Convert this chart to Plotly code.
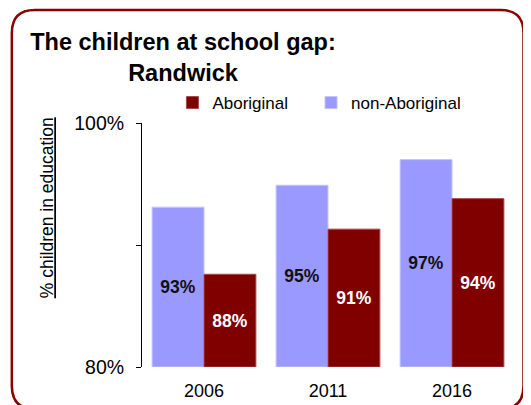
import plotly.graph_objects as go

YEARS = ["2006", "2011", "2016"]
NON_ABORIGINAL = [0.931, 0.949, 0.970]
ABORIGINAL = [0.876, 0.913, 0.938]
Y_TICKS = [0.8, 0.9, 1.0]
Y_TICK_TEXT = ["80%", "", "100%"]
BASE = 0.8

LAVENDER = "#9999FF"
MAROON = "#800000"
BORDER = "#8B0000"
FONT = "Liberation Sans, Arial, sans-serif"

# the page body has an 8px margin, so work in page pixels and shift back
OFF = 8
W, H = 531 - OFF, 405 - OFF
PLOT_L, PLOT_R, PLOT_T, PLOT_B = 141.5, 514.5, 123, 367
M_L, M_T = PLOT_L - OFF, PLOT_T - OFF
M_R, M_B = W - (PLOT_R - OFF), H - (PLOT_B - OFF)
PW, PH = PLOT_R - PLOT_L, PLOT_B - PLOT_T


def px_to_paper(x, y):
    return (x - PLOT_L) / PW, (PLOT_B - y) / PH


def rounded_box(x0, y0, x1, y1, r):
    pts = [
        ("M", [(x0 + r, y0)]), ("L", [(x1 - r, y0)]), ("Q", [(x1, y0), (x1, y0 + r)]),
        ("L", [(x1, y1 - r)]), ("Q", [(x1, y1), (x1 - r, y1)]), ("L", [(x0 + r, y1)]),
        ("Q", [(x0, y1), (x0, y1 - r)]), ("L", [(x0, y0 + r)]), ("Q", [(x0, y0), (x0 + r, y0)]),
    ]
    out = []
    for cmd, coords in pts:
        s = " ".join("%.4f,%.4f" % px_to_paper(*c) for c in coords)
        out.append(cmd + s)
    return " ".join(out) + " Z"


def pct(vals):
    return ["%d%%" % round(v * 100) for v in vals]


fig = go.Figure()
fig.add_trace(go.Bar(
    name="non-Aboriginal", x=YEARS, y=[v - BASE for v in NON_ABORIGINAL], base=BASE,
    marker=dict(color=LAVENDER, line=dict(color="#c4c4ff", width=1)),
    text=pct(NON_ABORIGINAL), textposition="inside", insidetextanchor="middle",
    textfont=dict(family=FONT, size=17.5, color="#111111", weight="bold"),
    hoverinfo="skip", legend="legend2",
))
fig.add_trace(go.Bar(
    name="Aboriginal", x=YEARS, y=[v - BASE for v in ABORIGINAL], base=BASE,
    marker=dict(color=MAROON, line=dict(color="#a84848", width=1)),
    text=pct(ABORIGINAL), textposition="inside", insidetextanchor="middle",
    textfont=dict(family=FONT, size=17.5, color="white", weight="bold"),
    hoverinfo="skip", legend="legend",
))

legend_common = dict(
    orientation="h", xanchor="left", yanchor="middle",
    y=px_to_paper(0, 103)[1],
    font=dict(family=FONT, size=17, color="black"),
    bgcolor="rgba(0,0,0,0)",
)

fig.update_layout(
    width=W, height=H,
    margin=dict(l=M_L, r=M_R, t=M_T, b=M_B, pad=0, autoexpand=False),
    paper_bgcolor="white", plot_bgcolor="white",
    font=dict(family=FONT, color="#111111"),
    barmode="group", bargap=0.163, bargroupgap=0,
    title=dict(
        text="<b>The children at school gap:<br>Randwick</b>",
        font=dict(family=FONT, size=23.5, color="black"),
        xref="container", x=(183 - OFF) / W, xanchor="center",
        yref="container", y=1 - 42 / H, yanchor="top",
    ),
    showlegend=True,
    legend=dict(x=px_to_paper(172, 0)[0], **legend_common),
    legend2=dict(x=px_to_paper(311, 0)[0], **legend_common),
    xaxis=dict(
        type="category", showline=False, showgrid=False, zeroline=False,
        ticks="", tickfont=dict(family=FONT, size=18, color="black"),
        ticklabelstandoff=11, automargin=False,
    ),
    yaxis=dict(
        range=[0.8, 1.0], tickvals=Y_TICKS, ticktext=Y_TICK_TEXT,
        showline=True, linecolor="black", linewidth=1, mirror=False,
        ticks="outside", ticklen=5, tickcolor="black",
        showgrid=False, zeroline=False,
        tickfont=dict(family=FONT, size=19.5, color="black"),
        ticklabelstandoff=8, automargin=False,
    ),
)

ax, ay = px_to_paper(46, 207.5)
fig.add_annotation(
    text="<u>% children in education</u>", textangle=-90,
    xref="paper", yref="paper", x=ax, y=ay, xanchor="center", yanchor="middle",
    showarrow=False,
    font=dict(family=FONT, size=17.5, color="black"),
)

fig.add_shape(
    type="path", xref="paper", yref="paper",
    path=rounded_box(11, 10, 524, 409, 23),
    line=dict(color=BORDER, width=2.5), layer="above",
)

fig.write_html("out.html")
